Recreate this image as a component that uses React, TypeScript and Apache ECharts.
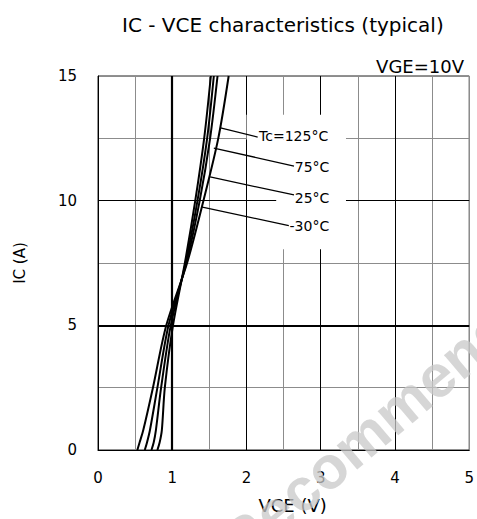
import React, { useEffect, useRef } from "react";
import * as echarts from "echarts";

// Collector current levels (A) shared by all curves
const icLevels = [0, 0.3, 0.8, 2.5, 5, 7.5, 10, 12.5, 15];
// VCE (V) at each current level, per case temperature
const vceM30 = [0.8, 0.83, 0.86, 0.9, 1.01, 1.17, 1.31, 1.43, 1.52];
const vce25 = [0.72, 0.75, 0.78, 0.85, 0.98, 1.18, 1.34, 1.47, 1.56];
const vce75 = [0.63, 0.66, 0.7, 0.8, 0.95, 1.19, 1.37, 1.51, 1.61];
const vce125 = [0.53, 0.56, 0.61, 0.74, 0.92, 1.2, 1.42, 1.62, 1.76];
const curveNames = ["-30°C", "25°C", "75°C", "Tc=125°C"];
const curveValues = [vceM30, vce25, vce75, vce125];

// Heavier grid lines
const darkX = [1, 2, 3, 4];
const darkY = [5, 10];
const thickX = [1];
const thickY = [5];

// Annotation labels (data coords): text anchor and pointer start on curve
const labelText = ["Tc=125°C", "75°C", "25°C", "-30°C"];
const labelAt = [
  [2.17, 12.6],
  [2.65, 11.35],
  [2.65, 10.1],
  [2.58, 8.98],
];
const pointerFrom = [
  [1.65, 12.92],
  [1.56, 12.11],
  [1.51, 10.95],
  [1.39, 9.75],
];
const pointerTo = [
  [2.15, 12.55],
  [2.64, 11.39],
  [2.64, 10.23],
  [2.57, 9.0],
];
// white boxes behind labels (data coords: [x0, y0, x1, y1])
const maskBoxes = [
  [2.0, 12.45, 3.34, 13.45],
  [2.4, 8.05, 3.34, 12.45],
];

const FONT = "'DejaVu Sans', sans-serif";

export default function App() {
  const ref = useRef<HTMLDivElement>(null);
  useEffect(() => {
    if (!ref.current) return;
    const chart = echarts.init(ref.current, undefined, { renderer: "svg" });
    const series: any[] = curveValues.map((vals, i) => ({
      name: curveNames[i],
      type: "line",
      data: vals.map((v, k) => [v, icLevels[k]]),
      smooth: 0.3,
      showSymbol: false,
      lineStyle: { color: "#000", width: 2 },
      z: 3,
    }));
    series.push({
      name: "grid-major",
      type: "line",
      data: [],
      silent: true,
      z: 2,
      markLine: {
        silent: true,
        symbol: "none",
        label: { show: false },
        lineStyle: { color: "#000", type: "solid", width: 1 },
        data: [
          ...darkX.map((x) => ({ xAxis: x, lineStyle: { color: "#000", type: "solid", width: thickX.includes(x) ? 2.2 : 1 } })),
          ...darkY.map((y) => ({ yAxis: y, lineStyle: { color: "#000", type: "solid", width: thickY.includes(y) ? 2.2 : 1 } })),
        ],
      },
    });

    chart.setOption({
      animation: false,
      backgroundColor: "#fff",
      title: [
        {
          text: "IC - VCE characteristics (typical)",
          left: 117,
          top: 10,
          textStyle: { fontSize: 20, fontWeight: "normal", color: "#000", fontFamily: FONT },
        },
        {
          text: "VGE=10V",
          right: 8,
          top: 52,
          textStyle: { fontSize: 18, fontWeight: "normal", color: "#000", fontFamily: FONT },
        },
      ],
      grid: {
        left: 98,
        right: 4,
        top: 76,
        bottom: 69,
        show: true,
        borderColor: "#222",
        borderWidth: 1,
        backgroundColor: "#fff",
      },
      xAxis: {
        type: "value",
        min: 0,
        max: 5,
        interval: 1,
        name: "VCE (V)",
        nameLocation: "middle",
        nameGap: 46,
        nameTextStyle: { fontSize: 18, color: "#000", fontFamily: FONT, padding: [0, 0, 0, 18] },
        axisLine: { show: true, onZero: false, lineStyle: { color: "#000" } },
        axisTick: { show: false },
        axisLabel: { fontSize: 15, color: "#000", fontFamily: FONT, margin: 20 },
        splitLine: { show: true, lineStyle: { color: "#8c8c8c", width: 1 } },
        minorTick: { show: false, splitNumber: 2 },
        minorSplitLine: { show: true, lineStyle: { color: "#8c8c8c", width: 1 } },
      },
      yAxis: {
        type: "value",
        min: 0,
        max: 15,
        interval: 5,
        name: "IC (A)",
        nameLocation: "middle",
        nameRotate: 90,
        nameGap: 71,
        nameTextStyle: { fontSize: 15, color: "#000", fontFamily: FONT },
        axisLine: { show: true, onZero: false, lineStyle: { color: "#000" } },
        axisTick: { show: false },
        axisLabel: { fontSize: 15, color: "#000", fontFamily: FONT, margin: 21 },
        splitLine: { show: true, lineStyle: { color: "#8c8c8c", width: 1 } },
        minorTick: { show: false, splitNumber: 2 },
        minorSplitLine: { show: true, lineStyle: { color: "#8c8c8c", width: 1 } },
      },
      series,
    });

    const px = (p: number[]) => chart.convertToPixel({ gridIndex: 0 }, p) as number[];
    const graphics: any[] = [];
    maskBoxes.forEach((b) => {
      const a = px([b[0], b[3]]);
      const c = px([b[2], b[1]]);
      graphics.push({
        type: "rect",
        z: 100,
        silent: true,
        shape: { x: a[0], y: a[1], width: c[0] - a[0], height: c[1] - a[1] },
        style: { fill: "#fff" },
      });
    });
    labelText.forEach((t, i) => {
      const f = px(pointerFrom[i]);
      const to = px(pointerTo[i]);
      graphics.push({
        type: "line",
        z: 101,
        silent: true,
        shape: { x1: f[0], y1: f[1], x2: to[0], y2: to[1] },
        style: { stroke: "#000", lineWidth: 1.3 },
      });
      const p = px(labelAt[i]);
      graphics.push({
        type: "text",
        z: 102,
        silent: true,
        x: p[0],
        y: p[1],
        style: {
          text: t,
          fill: "#000",
          font: `14px ${FONT}`,
          textAlign: "left",
          textVerticalAlign: "middle",
        },
      });
    });
    // faint diagonal watermark
    graphics.push({
      type: "text",
      z: 50,
      silent: true,
      x: 248,
      y: 574,
      rotation: 0.7,
      style: {
        text: "Recommended",
        fill: "rgba(200,200,200,0.75)",
        font: `bold 60px 'Liberation Sans', Arial, sans-serif`,
        textAlign: "left",
        textVerticalAlign: "bottom",
      },
    });
    chart.setOption({ graphic: graphics });

    return () => chart.dispose();
  }, []);
  return (
    <div
      ref={ref}
      style={{ position: "absolute", left: 0, top: 0, width: 477, height: 519 }}
    />
  );
}
